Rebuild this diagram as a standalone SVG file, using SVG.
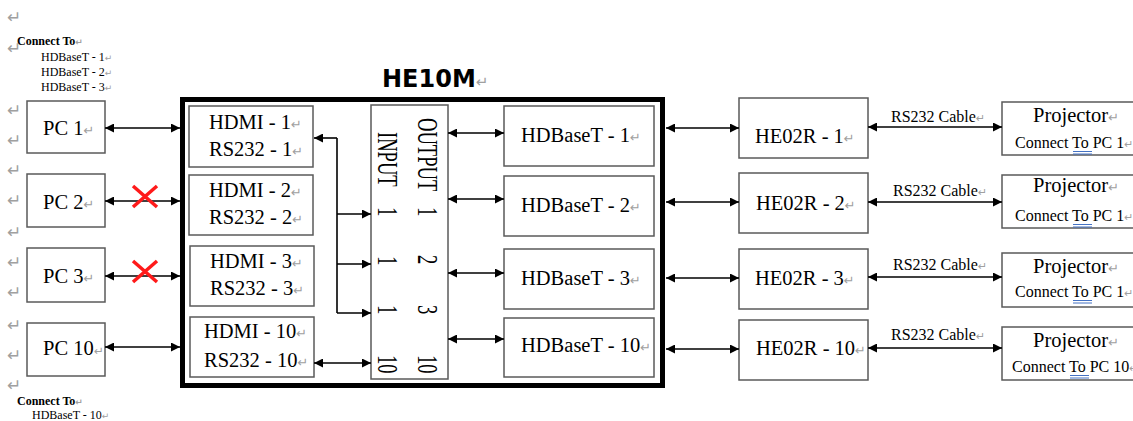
<svg xmlns="http://www.w3.org/2000/svg" width="1133" height="421" viewBox="0 0 1133 421">
<defs>
<marker id="ah" viewBox="0 0 10 10" refX="10" refY="5" markerWidth="10" markerHeight="9" markerUnits="userSpaceOnUse" orient="auto-start-reverse"><path d="M0,0L10,5L0,10z" fill="#000"/></marker>
<style>
.box{fill:#fff;stroke:#5a5a5a;stroke-width:1.5}
.lbl{font-family:"Liberation Serif","Times New Roman",serif;font-size:20.5px;fill:#000}
.sm{font-family:"Liberation Serif","Times New Roman",serif;font-size:12px;fill:#000}
.cab{font-family:"Liberation Serif","Times New Roman",serif;font-size:16px;fill:#000}
.rm{fill:#a0a0a0;font-family:"DejaVu Sans",sans-serif}
.vt{font-family:"Liberation Serif","Times New Roman",serif;font-size:30px;fill:#000}
.ln{stroke:#000;stroke-width:1.6;fill:none}
.dbl{marker-start:url(#ah);marker-end:url(#ah)}
.one{marker-end:url(#ah)}
.x{stroke:#ff1a1a;stroke-width:3.5;stroke-linecap:butt}
</style>
</defs>
<rect width="1133" height="421" fill="#fff"/>

<g id="margin-marks" class="rm" font-size="17">
<text x="7" y="23">↵</text>
<text x="7" y="54">↵</text>
<text x="7" y="116">↵</text>
<text x="7" y="146">↵</text>
<text x="7" y="176">↵</text>
<text x="7" y="206">↵</text>
<text x="7" y="238">↵</text>
<text x="7" y="268">↵</text>
<text x="7" y="298">↵</text>
<text x="7" y="331">↵</text>
<text x="7" y="361">↵</text>
<text x="7" y="391">↵</text>
</g>

<g id="note-top">
<text x="17" y="45" class="sm" font-weight="bold">Connect To<tspan class="rm" font-size="9">↵</tspan></text>
<text x="41" y="61" class="sm">HDBaseT - 1<tspan class="rm" font-size="9">↵</tspan></text>
<text x="41" y="76" class="sm">HDBaseT - 2<tspan class="rm" font-size="9">↵</tspan></text>
<text x="41" y="91" class="sm">HDBaseT - 3<tspan class="rm" font-size="9">↵</tspan></text>
</g>
<g id="note-bottom">
<text x="17" y="405" class="sm" font-weight="bold">Connect To<tspan class="rm" font-size="9">↵</tspan></text>
<text x="32" y="419" class="sm">HDBaseT - 10<tspan class="rm" font-size="9">↵</tspan></text>
</g>

<g id="title">
<text x="382" y="87" font-family="'DejaVu Sans',Verdana,sans-serif" font-weight="bold" font-size="24">HE10M<tspan class="rm" font-size="15" font-weight="normal">↵</tspan></text>
</g>

<g id="he10m">
<rect x="182.5" y="99.5" width="480" height="286" fill="none" stroke="#000" stroke-width="5"/>
</g>

<g id="pc1"><rect class="box" x="27" y="101" width="78" height="52"/><text class="lbl" x="43" y="135">PC 1<tspan class="rm" font-size="13">↵</tspan></text></g>
<g id="pc2"><rect class="box" x="27" y="174" width="78" height="53"/><text class="lbl" x="43" y="209">PC 2<tspan class="rm" font-size="13">↵</tspan></text></g>
<g id="pc3"><rect class="box" x="27" y="248" width="78" height="54"/><text class="lbl" x="43" y="283">PC 3<tspan class="rm" font-size="13">↵</tspan></text></g>
<g id="pc10"><rect class="box" x="27" y="323" width="78" height="53"/><text class="lbl" x="43" y="355" font-size="16.5">PC 10<tspan class="rm" font-size="12">↵</tspan></text></g>

<g id="hdmi1"><rect class="box" x="189" y="106" width="124" height="61"/><text class="lbl" x="209" y="129">HDMI - 1<tspan class="rm" font-size="13">↵</tspan></text><text class="lbl" x="209" y="156">RS232 - 1<tspan class="rm" font-size="13">↵</tspan></text></g>
<g id="hdmi2"><rect class="box" x="189" y="175" width="124" height="60"/><text class="lbl" x="209" y="197">HDMI - 2<tspan class="rm" font-size="13">↵</tspan></text><text class="lbl" x="209" y="224">RS232 - 2<tspan class="rm" font-size="13">↵</tspan></text></g>
<g id="hdmi3"><rect class="box" x="190" y="246" width="124" height="60"/><text class="lbl" x="210" y="268">HDMI - 3<tspan class="rm" font-size="13">↵</tspan></text><text class="lbl" x="210" y="295">RS232 - 3<tspan class="rm" font-size="13">↵</tspan></text></g>
<g id="hdmi10"><rect class="box" x="190" y="317" width="124" height="60"/><text class="lbl" x="204" y="338">HDMI - 10<tspan class="rm" font-size="13">↵</tspan></text><text class="lbl" x="204" y="367">RS232 - 10<tspan class="rm" font-size="13">↵</tspan></text></g>

<g id="matrix">
<rect class="box" x="371" y="105" width="77" height="274"/>
<text class="vt" transform="translate(418,118) rotate(90) scale(0.62,1)">OUTPUT</text>
<text class="vt" transform="translate(418,207) rotate(90) scale(0.62,1)">1</text>
<text class="vt" transform="translate(418,255) rotate(90) scale(0.62,1)">2</text>
<text class="vt" transform="translate(418,305) rotate(90) scale(0.62,1)">3</text>
<text class="vt" transform="translate(418,355) rotate(90) scale(0.62,1)">10</text>
<text class="vt" transform="translate(378,132) rotate(90) scale(0.62,1)">INPUT</text>
<text class="vt" transform="translate(378,207) rotate(90) scale(0.62,1)">1</text>
<text class="vt" transform="translate(378,256) rotate(90) scale(0.62,1)">1</text>
<text class="vt" transform="translate(378,305) rotate(90) scale(0.62,1)">1</text>
<text class="vt" transform="translate(378,355) rotate(90) scale(0.62,1)">10</text>
</g>

<g id="hdb1"><rect class="box" x="504" y="106" width="150" height="60"/><text class="lbl" x="521" y="142">HDBaseT - 1<tspan class="rm" font-size="13">↵</tspan></text></g>
<g id="hdb2"><rect class="box" x="504" y="176" width="150" height="60"/><text class="lbl" x="521" y="212">HDBaseT - 2<tspan class="rm" font-size="13">↵</tspan></text></g>
<g id="hdb3"><rect class="box" x="504" y="249" width="150" height="60"/><text class="lbl" x="521" y="285">HDBaseT - 3<tspan class="rm" font-size="13">↵</tspan></text></g>
<g id="hdb10"><rect class="box" x="504" y="318" width="150" height="59"/><text class="lbl" x="521" y="352" font-size="18.5">HDBaseT - 10<tspan class="rm" font-size="13">↵</tspan></text></g>

<g id="he02r1"><rect class="box" x="739" y="98" width="129" height="60"/><text class="lbl" x="755" y="143">HE02R - 1<tspan class="rm" font-size="13">↵</tspan></text></g>
<g id="he02r2"><rect class="box" x="739" y="173" width="129" height="60"/><text class="lbl" x="756" y="210">HE02R - 2<tspan class="rm" font-size="13">↵</tspan></text></g>
<g id="he02r3"><rect class="box" x="739" y="249" width="129" height="60"/><text class="lbl" x="755" y="285">HE02R - 3<tspan class="rm" font-size="13">↵</tspan></text></g>
<g id="he02r10"><rect class="box" x="739" y="320" width="129" height="60"/><text class="lbl" x="756" y="355" font-size="19">HE02R - 10<tspan class="rm" font-size="13">↵</tspan></text></g>

<g id="proj1"><rect class="box" x="1002" y="102" width="140" height="53"/><text class="lbl" x="1033" y="122">Projector<tspan class="rm" font-size="13">↵</tspan></text><text class="cab" x="1015" y="148" font-size="16.5">Connect To PC 1<tspan class="rm" font-size="11">↵</tspan></text><path d="M1073,151.5H1092M1073,154H1092" stroke="#4472c4" stroke-width="1"/></g>
<g id="proj2"><rect class="box" x="1002" y="175" width="140" height="53"/><text class="lbl" x="1033" y="192">Projector<tspan class="rm" font-size="13">↵</tspan></text><text class="cab" x="1015" y="221" font-size="16.5">Connect To PC 1<tspan class="rm" font-size="11">↵</tspan></text><path d="M1073,224.5H1092M1073,227H1092" stroke="#4472c4" stroke-width="1"/></g>
<g id="proj3"><rect class="box" x="1002" y="253" width="140" height="54"/><text class="lbl" x="1033" y="273">Projector<tspan class="rm" font-size="13">↵</tspan></text><text class="cab" x="1015" y="297" font-size="16.5">Connect To PC 1<tspan class="rm" font-size="11">↵</tspan></text><path d="M1073,300.5H1092M1073,303H1092" stroke="#4472c4" stroke-width="1"/></g>
<g id="proj10"><rect class="box" x="1002" y="327" width="140" height="53"/><text class="lbl" x="1033" y="347">Projector<tspan class="rm" font-size="13">↵</tspan></text><text class="cab" x="1012" y="372" font-size="16.5">Connect To PC 10<tspan class="rm" font-size="11">↵</tspan></text><path d="M1070,375.5H1089M1070,378H1089" stroke="#4472c4" stroke-width="1"/></g>

<g id="connectors">
<path class="ln dbl" d="M105,128H180"/>
<path class="ln dbl" d="M105,201H180"/>
<path class="ln dbl" d="M105,276H180"/>
<path class="ln dbl" d="M105,347H180"/>
<path class="ln" d="M337,138V313"/>
<path class="ln one" d="M337,138H314"/>
<path class="ln one" d="M337,214H371"/>
<path class="ln one" d="M337,264H371"/>
<path class="ln one" d="M337,313H371"/>
<path class="ln dbl" d="M314,363H371"/>
<path class="ln dbl" d="M448,133H504"/>
<path class="ln dbl" d="M448,199H504"/>
<path class="ln dbl" d="M448,273H504"/>
<path class="ln dbl" d="M448,339H504"/>
<path class="ln dbl" d="M666,128H739"/>
<path class="ln dbl" d="M666,202H739"/>
<path class="ln dbl" d="M666,278H739"/>
<path class="ln dbl" d="M666,349H739"/>
<path class="ln dbl" d="M868,127H1002"/>
<path class="ln dbl" d="M868,202H1002"/>
<path class="ln dbl" d="M868,277H1002"/>
<path class="ln dbl" d="M868,348H1002"/>
<text class="cab" x="891" y="122">RS232 Cable<tspan class="rm" font-size="11">↵</tspan></text>
<text class="cab" x="893" y="196">RS232 Cable<tspan class="rm" font-size="11">↵</tspan></text>
<text class="cab" x="893" y="270">RS232 Cable<tspan class="rm" font-size="11">↵</tspan></text>
<text class="cab" x="891" y="340">RS232 Cable<tspan class="rm" font-size="11">↵</tspan></text>
<path class="x" d="M133,186L157,207M157,186L133,207"/>
<path class="x" d="M133,261L157,282M157,261L133,282"/>
</g>
</svg>
